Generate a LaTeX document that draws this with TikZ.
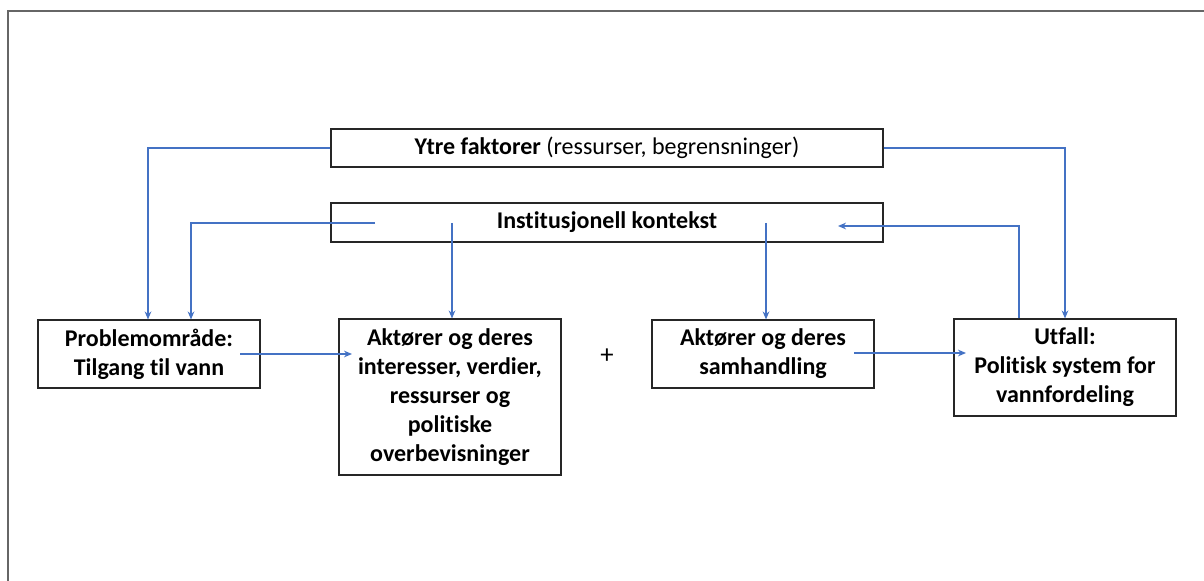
\documentclass[tikz,border=0pt]{standalone}
\usepackage{fontspec}
\setmainfont[Ligatures={NoCommon}]{Carlito}
\usetikzlibrary{positioning,calc,arrows.meta}
\definecolor{linkblue}{HTML}{4472C4}
\tikzset{
  >={Stealth[length=6pt,width=5pt]},
  my box/.style={
    draw=black!85,
    line width=0.8pt,
    rectangle,
    inner sep=0pt,
    align=center,
    font=\fontsize{18}{21.8}\selectfont\bfseries
  },
  my link/.style={
    draw=linkblue,
    line width=1.1pt
  }
}

\begin{document}
\begin{tikzpicture}[x=0.75pt,y=-0.75pt]
\useasboundingbox (0,0) rectangle (1204,581);
\draw[black!60,line width=1pt] (8,581) -- (8,11) -- (1204,11);

\node[my box,minimum width=552*0.75pt,minimum height=38*0.75pt] (ytre) at (607,148)
  {Ytre faktorer \mdseries(ressurser, begrensninger)};
\node[my box,minimum width=552*0.75pt,minimum height=39*0.75pt] (inst) at (607,222.5)
  {Institusjonell kontekst};
\node[my box,minimum width=222*0.75pt,minimum height=68*0.75pt] (prob) at (149,354)
  {Problemområde:\\Tilgang til vann};
\node[my box,minimum width=222*0.75pt,minimum height=156*0.75pt] (akt1) at (450,397)
  {Aktører og deres\\interesser, verdier,\\ressurser og\\politiske\\overbevisninger};
\node[my box,minimum width=222*0.75pt,minimum height=68*0.75pt] (akt2) at (763,354)
  {Aktører og deres\\samhandling};
\node[my box,minimum width=222*0.75pt,minimum height=97*0.75pt] (utf) at (1065,367.5)
  {Utfall:\\Politisk system for\\vannfordeling};
\node[font=\fontsize{20}{24}\selectfont] (plus) at (607,356) {+};

% free ends inside the boxes
\coordinate (inst-l) at (375,223);
\coordinate (inst-a) at (452,223);
\coordinate (inst-b) at (766,223);
\coordinate (inst-r) at (838,226);
\coordinate (prob-r) at (240,354);
\coordinate (akt1-l) at (352,354);
\coordinate (akt2-r) at (854,353);
\coordinate (utf-l) at (966,353);

\draw[my link,->] (ytre.west) -| ($(prob.north)+(-1,0)$);
\draw[my link,->] (inst-l) -| ($(prob.north)+(42,0)$);
\draw[my link,->] (inst-a) -- (inst-a |- akt1.north);
\draw[my link,->] (inst-b) -- (inst-b |- akt2.north);
\draw[my link,->] (ytre.east) -| (utf.north);
\draw[my link,->] ($(utf.north)+(-46,0)$) |- (inst-r);
\draw[my link,->] (prob-r) -- (akt1-l);
\draw[my link,->] (akt2-r) -- (utf-l);
\end{tikzpicture}
\end{document}
